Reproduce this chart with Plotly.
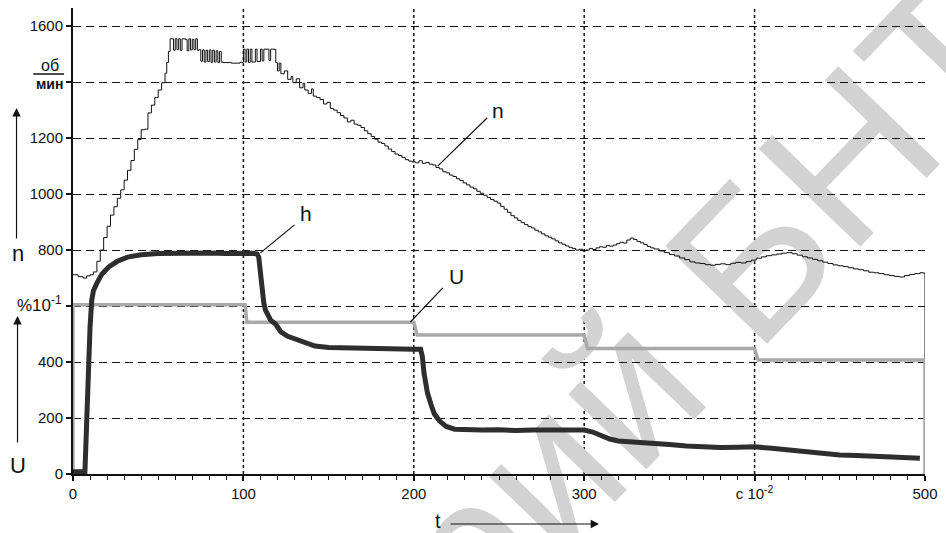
import plotly.graph_objects as go

# ---------------- data ----------------
n_t = [0, 3, 6, 8, 10, 12, 14, 16, 18, 20, 22, 24, 26, 28, 30, 32, 34, 36, 38, 40, 42, 44, 46, 48, 50,
       52, 54, 55, 56, 57, 59, 60, 61, 62, 63, 64, 66, 67, 68, 69, 70, 71, 72, 73, 74, 75, 76, 77, 78,
       79, 80, 81, 82, 83, 84, 85, 86, 87, 88, 93, 98, 100, 101, 102, 103, 104, 105, 107, 108, 110,
       111, 112, 114, 115, 116, 118, 119, 120, 121, 122, 124, 126, 128, 129, 131, 133, 135, 136, 138,
       140, 141, 143, 145, 147, 149, 151, 153, 155, 157, 159, 161, 163, 165, 167, 169, 171, 173, 175,
       177, 179, 181, 183, 185, 187, 189, 191, 193, 195, 197, 199, 201, 203, 205, 207, 209, 211, 213,
       215, 217, 219, 221, 223, 225, 227, 229, 231, 233, 235, 237, 239, 241, 243, 245, 247, 249, 251,
       253, 255, 257, 259, 261, 263, 265, 267, 269, 271, 273, 275, 277, 279, 281, 283, 285, 287, 289,
       291, 293, 295, 297, 299, 301, 303, 305, 307, 309, 311, 313, 315, 317, 319, 321, 323, 325, 327,
       329, 331, 333, 335, 337, 339, 341, 344, 347, 350, 353, 356, 359, 362, 365, 368, 371, 374, 377,
       380, 383, 386, 389, 392, 395, 398, 401, 404, 407, 410, 413, 416, 419, 422, 425, 428, 431, 434,
       437, 440, 443, 446, 449, 452, 455, 458, 461, 464, 467, 470, 473, 476, 479, 482, 485, 488, 491,
       494, 497, 499, 500]
n_v = [712, 705, 700, 708, 712, 722, 760, 800, 845, 885, 925, 955, 985, 1015, 1050, 1085, 1120, 1160,
       1195, 1230, 1232, 1290, 1318, 1345, 1372, 1398, 1432, 1470, 1510, 1555, 1514, 1555, 1516,
       1555, 1514, 1555, 1552, 1512, 1555, 1515, 1553, 1516, 1555, 1514, 1516, 1475, 1515, 1472,
       1514, 1474, 1515, 1471, 1514, 1472, 1512, 1470, 1510, 1472, 1470, 1468, 1471, 1518, 1472,
       1518, 1470, 1518, 1472, 1518, 1474, 1518, 1476, 1518, 1518, 1478, 1518, 1517, 1470, 1440,
       1468, 1430, 1440, 1410, 1420, 1398, 1412, 1380, 1396, 1372, 1360, 1376, 1350, 1345, 1338,
       1322, 1328, 1306, 1300, 1291, 1281, 1272, 1258, 1264, 1250, 1246, 1238, 1226, 1216, 1206,
       1196, 1186, 1181, 1172, 1161, 1152, 1143, 1138, 1131, 1123, 1118, 1115, 1112, 1119, 1110,
       1113, 1107, 1104, 1095, 1090, 1080, 1076, 1068, 1063, 1055, 1049, 1040, 1033, 1025, 1019,
       1010, 1003, 996, 988, 981, 975, 968, 956, 946, 935, 923, 915, 906, 898, 891, 884, 879, 871,
       865, 858, 851, 846, 840, 833, 826, 821, 815, 810, 806, 800, 803, 797, 800, 806, 802, 808,
       812, 810, 816, 814, 818, 823, 828, 825, 836, 843, 838, 831, 826, 820, 813, 808, 804, 797,
       791, 784, 779, 772, 766, 758, 754, 752, 748, 746, 749, 751, 748, 753, 756, 754, 759, 764,
       771, 776, 780, 783, 786, 789, 791, 787, 782, 776, 772, 767, 762, 757, 752, 747, 744, 741,
       737, 733, 730, 726, 721, 719, 716, 712, 709, 706, 704, 709, 713, 716, 719, 718, 0]

h_t = [0, 7, 8, 9, 10, 11, 12, 14, 17, 21, 26, 32, 40, 50, 60, 70, 80, 90, 100, 105, 108, 109, 110,
       111, 112, 113, 116, 119, 122, 126, 132, 142, 150, 160, 170, 180, 190, 200, 204, 205, 206,
       208, 210, 212, 215, 219, 224, 230, 240, 250, 260, 270, 280, 290, 300, 305, 310, 315, 320,
       330, 340, 350, 360, 370, 380, 390, 400, 410, 420, 430, 440, 450, 460, 470, 480, 490, 497]
h_v = [8, 8, 180, 400, 525, 621, 655, 682, 715, 740, 760, 775, 783, 788, 790, 788, 790, 788, 790,
       789, 786, 775, 720, 660, 610, 585, 550, 535, 508, 492, 478, 457, 452, 450, 448, 446, 447,
       446, 446, 420, 360, 290, 250, 215, 190, 170, 160, 158, 157, 158, 155, 157, 156, 158, 157,
       150, 138, 125, 118, 115, 110, 105, 100, 97, 95, 96, 97, 92, 85, 78, 72, 68, 66, 63, 60, 58, 56]

U_t = [0, 0, 101, 102, 200, 202, 300, 302, 400, 402, 500, 500]
U_v = [0, 605, 605, 542, 542, 497, 497, 448, 448, 407, 407, 0]

x_ticks = [0, 100, 200, 300, 400, 500]
x_ticktext = ["0", "100", "200", "300", "c 10<sup>-2</sup>", "500"]
y_ticks = [0, 200, 400, 600, 800, 1000, 1200, 1400, 1600]
y_ticktext = ["0", "200", "400", "", "800", "1000", "1200", "", "1600"]
x_grid = [100, 200, 300, 400]

# ---------------- geometry helpers (layout only) ----------------
W, H = 946, 533
ML, MR, MT, MB = 73, 13, 8, 59
PW, PH = W - ML - MR, H - MT - MB


def px(xp):
    return (xp - ML) / PW


def py(yp):
    return (H - MB - yp) / PH


FONT = "Liberation Sans, Arial, sans-serif"
INK = "#111111"

fig = go.Figure()

fig.add_trace(go.Scatter(x=n_t, y=n_v, mode="lines", line=dict(color=INK, width=1, shape="hv"),
                         hoverinfo="skip", showlegend=False))
fig.add_trace(go.Scatter(x=U_t, y=U_v, mode="lines", line=dict(color="#a9a9a9", width=3.5),
                         hoverinfo="skip", showlegend=False))
fig.add_trace(go.Scatter(x=h_t, y=h_v, mode="lines", line=dict(color="#2e2e2e", width=5),
                         hoverinfo="skip", showlegend=False))

# vertical dashed grid lines
for g in x_grid:
    fig.add_shape(type="line", xref="x", yref="paper", x0=g, x1=g, y0=0, y1=1,
                  line=dict(color=INK, width=1.5, dash="3px,3px"), layer="between")

# watermark
fig.add_shape(type="line", xref="paper", yref="paper",
              x0=px(242), y0=py(761), x1=px(632), y1=py(359),
              line=dict(color="rgba(0,0,0,0)", width=1), layer="below",
              label=dict(text="Репозиторий БНТУ", textposition="middle", yanchor="middle",
                         font=dict(size=205, color="#d2d2d2", family=FONT)))

# leader lines for labels
leaders = [((243, 1272), (214, 1100)), ((130, 890), (110, 790)), ((217, 665), (198, 543))]
for (a, b) in leaders:
    fig.add_shape(type="line", xref="x", yref="y", x0=a[0], y0=a[1], x1=b[0], y1=b[1],
                  line=dict(color=INK, width=1.2))

labels = [("n", 249.5, 1300), ("h", 136.6, 932), ("U", 225, 704)]
for t, xx, yy in labels:
    fig.add_annotation(x=xx, y=yy, text=t, showarrow=False, xref="x", yref="y",
                       xanchor="center", yanchor="middle",
                       font=dict(size=21, color=INK, family=FONT))

txt_kw = dict(xref="paper", yref="paper", showarrow=False, xanchor="center", yanchor="middle")
# left side symbols
fig.add_annotation(x=px(17), y=py(253), text="n", font=dict(size=22, color=INK, family=FONT), **txt_kw)
fig.add_annotation(x=px(17), y=py(465), text="U", font=dict(size=22, color=INK, family=FONT), **txt_kw)
fig.add_annotation(x=px(50), y=py(65), text="об", font=dict(size=16, color=INK, family=FONT), **txt_kw)
fig.add_annotation(x=px(49), y=py(84), text="<b>мин</b>", font=dict(size=14, color=INK, family=FONT),
                   **txt_kw)
fig.add_shape(type="line", xref="paper", yref="paper", x0=px(33), x1=px(64), y0=py(74), y1=py(74),
              line=dict(color=INK, width=1.5))
fig.add_annotation(xref="paper", yref="paper", showarrow=False, x=px(64), y=py(304),
                   xanchor="right", yanchor="middle", text="%10<sup>-1</sup>",
                   font=dict(size=17, color=INK, family=FONT))

# arrows
arrow_kw = dict(xref="paper", yref="paper", text="", showarrow=True, arrowhead=2,
                arrowsize=1.4, arrowwidth=1.2, arrowcolor=INK)
fig.add_annotation(x=px(16), y=py(108), ax=0, ay=132, **arrow_kw)
fig.add_annotation(x=px(17), y=py(316), ax=0, ay=128, **arrow_kw)
fig.add_annotation(x=px(604), y=py(524), ax=-150, ay=0, **arrow_kw)
fig.add_annotation(x=px(441), y=py(521), text="t", font=dict(size=20, color=INK, family=FONT), **txt_kw)

fig.update_layout(
    width=W, height=H,
    margin=dict(l=ML, r=MR, t=MT, b=MB),
    paper_bgcolor="white", plot_bgcolor="rgba(0,0,0,0)",
    font=dict(family=FONT, size=15, color=INK),
    showlegend=False,
)
fig.update_xaxes(range=[0, 500], tickvals=x_ticks, ticktext=x_ticktext, showgrid=False,
                 zeroline=False, showline=True, linecolor=INK, linewidth=2,
                 ticks="outside", ticklen=5, tickwidth=1.5, tickcolor=INK,
                 minor=dict(dtick=10, ticks="outside", ticklen=4, tickwidth=1.2, tickcolor=INK,
                            showgrid=False),
                 tickfont=dict(size=15), fixedrange=True)
fig.update_yaxes(range=[0, 1665], tickvals=y_ticks, ticktext=y_ticktext, showgrid=True,
                 gridcolor=INK, gridwidth=1.4, griddash="8px,5px",
                 zeroline=False, showline=True, linecolor=INK, linewidth=2,
                 ticks="outside", ticklen=5, tickwidth=1.5, tickcolor=INK,
                 tickfont=dict(size=15), fixedrange=True)

fig.write_html("out.html")
